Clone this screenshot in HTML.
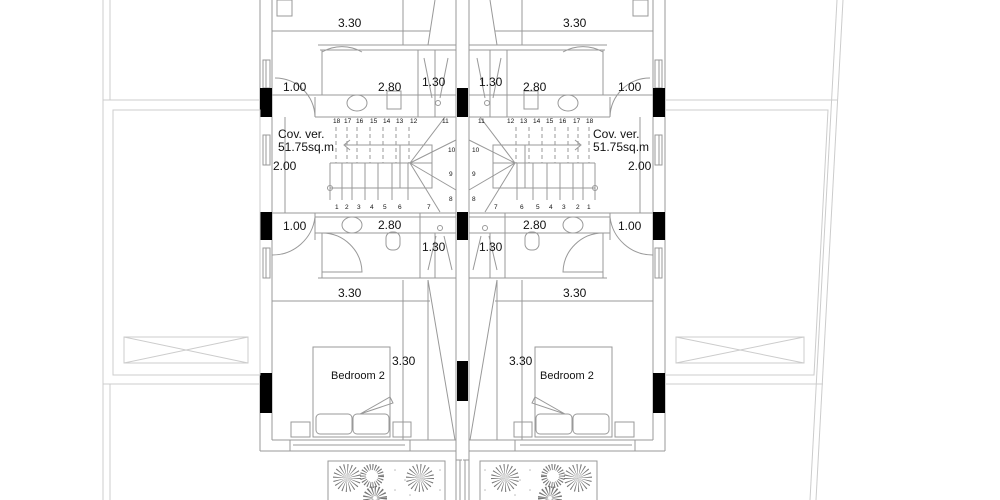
<!DOCTYPE html>
<html><head><meta charset="utf-8"><style>
html,body{margin:0;padding:0;background:#fff;width:1000px;height:500px;overflow:hidden}
svg{display:block}
text{font-family:"Liberation Sans",sans-serif;fill:#111}
</style></head><body>
<svg width="1000" height="500" viewBox="0 0 1000 500" xmlns="http://www.w3.org/2000/svg">
<defs>
<g id="half" fill="none" stroke="#999" stroke-width="1">
  <line x1="260" y1="0" x2="260" y2="451"/>
  <line x1="272" y1="0" x2="272" y2="440"/>
  <line x1="456" y1="0" x2="456" y2="460"/>
  <line x1="272" y1="440" x2="456" y2="440"/>
  <line x1="260" y1="451" x2="456" y2="451"/>
  <line x1="456" y1="460" x2="462" y2="460"/>
  <rect x="263" y="60" width="7" height="28"/>
  <rect x="263" y="135" width="7" height="30"/>
  <rect x="263" y="248" width="7" height="30"/>
  <line x1="266" y1="60" x2="266" y2="88"/><line x1="266" y1="135" x2="266" y2="165"/><line x1="266" y1="248" x2="266" y2="278"/>
  <rect x="277" y="0" width="15" height="16"/>
  <line x1="272" y1="31" x2="430" y2="31"/>
  <line x1="403" y1="0" x2="403" y2="45"/>
  <line x1="435" y1="0" x2="428" y2="45"/>
  <line x1="320" y1="50" x2="456" y2="50"/>
  <line x1="318" y1="45" x2="456" y2="45"/>
  <line x1="322" y1="50" x2="322" y2="95"/>
  <line x1="418" y1="50" x2="418" y2="117"/>
  <line x1="435" y1="50" x2="435" y2="117"/>
  <line x1="272" y1="95" x2="456" y2="95"/>
  <line x1="315" y1="117" x2="456" y2="117"/>
  <path d="M322 92 L322 52 A40 40 0 0 1 362 52"/>
  <path d="M315 117 L315 97 M275 78 A40 40 0 0 1 315 117"/>
  <ellipse cx="357" cy="103" rx="10" ry="8"/>
  <rect x="387" y="91" width="14" height="18"/>
  <circle cx="438" cy="103" r="2.5"/>
  <line x1="424" y1="58" x2="432" y2="98"/><line x1="448" y1="58" x2="440" y2="98"/>
  <g stroke-dasharray="4 3">
   <line x1="336" y1="127" x2="336" y2="163"/><line x1="347" y1="127" x2="347" y2="163"/>
   <line x1="357" y1="127" x2="357" y2="163"/><line x1="370" y1="127" x2="370" y2="163"/>
   <line x1="383" y1="127" x2="383" y2="163"/><line x1="396" y1="127" x2="396" y2="163"/>
   <line x1="409" y1="127" x2="409" y2="163"/>
  </g>
  <line x1="330" y1="163" x2="432" y2="163"/>
  <line x1="330" y1="163" x2="330" y2="200"/>
  <line x1="342" y1="163" x2="342" y2="200"/><line x1="352" y1="163" x2="352" y2="200"/>
  <line x1="365" y1="163" x2="365" y2="200"/><line x1="378" y1="163" x2="378" y2="200"/>
  <line x1="392" y1="163" x2="392" y2="200"/><line x1="408" y1="163" x2="408" y2="200"/>
  <line x1="330" y1="188" x2="432" y2="188"/>
  <line x1="345" y1="145" x2="430" y2="145"/>
  <path d="M350 140 L344 145 L350 150"/>
  <rect x="400" y="145" width="32" height="43"/>
  <circle cx="330" cy="188" r="2.5"/>
  <path d="M445 117 L410 163 L456 140 M410 163 L456 190 M410 163 L440 212"/>
  <line x1="272" y1="213" x2="456" y2="213"/>
  <line x1="315" y1="217" x2="456" y2="217"/>
  <line x1="315" y1="233" x2="456" y2="233"/>
  <line x1="315" y1="213" x2="315" y2="240"/>
  <path d="M272 255 A43 43 0 0 0 315 217"/>
  <line x1="322" y1="233" x2="322" y2="278"/>
  <path d="M322 233 A40 40 0 0 1 362 272 L322 272"/>
  <line x1="318" y1="278" x2="456" y2="278"/>
  <line x1="420" y1="213" x2="420" y2="278"/>
  <line x1="435" y1="233" x2="435" y2="278"/>
  <ellipse cx="352" cy="225" rx="10" ry="8"/>
  <rect x="386" y="232" width="14" height="18" rx="6"/>
  <circle cx="440" cy="228" r="2.5"/>
  <line x1="428" y1="270" x2="436" y2="236"/><line x1="452" y1="270" x2="444" y2="236"/>
  <line x1="285" y1="117" x2="285" y2="213"/>
  <line x1="272" y1="301" x2="430" y2="301"/>
  <line x1="403" y1="280" x2="403" y2="440"/>
  <line x1="428" y1="280" x2="455" y2="440"/>
  <line x1="428" y1="280" x2="428" y2="440"/>
  <rect x="313" y="347" width="77" height="90"/>
  <rect x="316" y="414" width="36" height="20" rx="4"/>
  <rect x="353" y="414" width="36" height="20" rx="4"/>
  <path d="M360 414 L390 397 L393 403 Z"/>
  <rect x="291" y="422" width="19" height="15"/>
  <rect x="393" y="422" width="18" height="15"/>
  <line x1="290" y1="440" x2="290" y2="451"/><line x1="293" y1="445" x2="405" y2="445"/><line x1="410" y1="440" x2="410" y2="451"/>
  <rect x="328" y="461" width="117" height="45"/>
  <line x1="456" y1="460" x2="456" y2="500"/>
  <line x1="460" y1="460" x2="460" y2="500"/>
  <g stroke="#777">
   <circle cx="347" cy="478" r="7" stroke-width="14" stroke-dasharray="0.6 1.6"/>
   <circle cx="420" cy="478" r="7" stroke-width="14" stroke-dasharray="0.6 1.6"/>
   <circle cx="372" cy="476" r="9" stroke-width="6" stroke-dasharray="1 1.5"/>
   <circle cx="375" cy="498" r="7" stroke-width="10" stroke-dasharray="1 1.5"/>
  </g>
  <g fill="#bbb" stroke="none">
   <circle cx="395" cy="470" r="0.8"/><circle cx="405" cy="480" r="0.8"/><circle cx="395" cy="490" r="0.8"/>
   <circle cx="440" cy="470" r="0.8"/><circle cx="440" cy="490" r="0.8"/><circle cx="410" cy="495" r="0.8"/>
  </g>
  <g fill="#000" stroke="none">
   <rect x="260" y="88" width="12" height="29"/>
   <rect x="260" y="212" width="12" height="28"/>
   <rect x="260" y="373" width="12" height="40"/>
  </g>
</g>
</defs>
<use href="#half"/>
<use href="#half" transform="translate(925 0) scale(-1 1)"/>
<g fill="#000">
 <rect x="457" y="88" width="11" height="29"/>
 <rect x="457" y="212" width="11" height="28"/>
 <rect x="457" y="361" width="11" height="40"/>
</g>
<g fill="none" stroke="#ccc">
 <line x1="103" y1="0" x2="103" y2="100"/><line x1="110" y1="0" x2="110" y2="100"/>
 <line x1="103" y1="384" x2="103" y2="500"/><line x1="110" y1="384" x2="110" y2="500"/>
 <line x1="103" y1="100" x2="260" y2="100"/><line x1="103" y1="384" x2="260" y2="384"/>
 <line x1="103" y1="100" x2="103" y2="384"/>
 <rect x="113" y="110" width="147" height="265"/>
 <rect x="124" y="337" width="124" height="26"/>
 <path d="M124 337 L248 363 M124 363 L248 337"/>
 <line x1="665" y1="100" x2="838" y2="100"/><line x1="665" y1="384" x2="823" y2="384"/>
 <path d="M665 110 L828 110 L814 375 L665 375"/>
 <rect x="676" y="337" width="128" height="26"/>
 <path d="M676 337 L804 363 M676 363 L804 337"/>
 <line x1="843" y1="0" x2="816" y2="500"/><line x1="837" y1="0" x2="810" y2="500"/>
</g>
<g font-size="12">
 <text x="338" y="27">3.30</text><text x="563" y="27">3.30</text>
 <text x="283" y="91">1.00</text><text x="618" y="91">1.00</text>
 <text x="378" y="91">2.80</text><text x="523" y="91">2.80</text>
 <text x="422" y="86">1.30</text><text x="479" y="86">1.30</text>
 <text x="278" y="138">Cov. ver.</text><text x="593" y="138">Cov. ver.</text>
 <text x="278" y="151">51.75sq.m</text><text x="593" y="151">51.75sq.m</text>
 <text x="273" y="170">2.00</text><text x="628" y="170">2.00</text>
 <text x="283" y="230">1.00</text><text x="618" y="230">1.00</text>
 <text x="378" y="229">2.80</text><text x="523" y="229">2.80</text>
 <text x="422" y="251">1.30</text><text x="479" y="251">1.30</text>
 <text x="338" y="297">3.30</text><text x="563" y="297">3.30</text>
 <text x="392" y="365">3.30</text><text x="509" y="365">3.30</text>
 <text x="331" y="379" font-size="11">Bedroom 2</text><text x="540" y="379" font-size="11">Bedroom 2</text>
</g>
<g font-size="6.5">
 <text x="333" y="123">18</text><text x="344" y="123">17</text><text x="356" y="123">16</text><text x="370" y="123">15</text><text x="383" y="123">14</text><text x="396" y="123">13</text><text x="410" y="123">12</text><text x="442" y="123">11</text>
 <text x="448" y="152">10</text><text x="449" y="176">9</text><text x="449" y="201">8</text><text x="427" y="209">7</text>
 <text x="335" y="209">1</text><text x="345" y="209">2</text><text x="357" y="209">3</text><text x="370" y="209">4</text><text x="383" y="209">5</text><text x="398" y="209">6</text>
 <text x="478" y="123">11</text><text x="507" y="123">12</text><text x="520" y="123">13</text><text x="533" y="123">14</text><text x="546" y="123">15</text><text x="559" y="123">16</text><text x="573" y="123">17</text><text x="586" y="123">18</text>
 <text x="472" y="152">10</text><text x="472" y="176">9</text><text x="472" y="201">8</text><text x="494" y="209">7</text>
 <text x="520" y="209">6</text><text x="536" y="209">5</text><text x="549" y="209">4</text><text x="562" y="209">3</text><text x="576" y="209">2</text><text x="587" y="209">1</text>
</g>
</svg>
</body></html>
